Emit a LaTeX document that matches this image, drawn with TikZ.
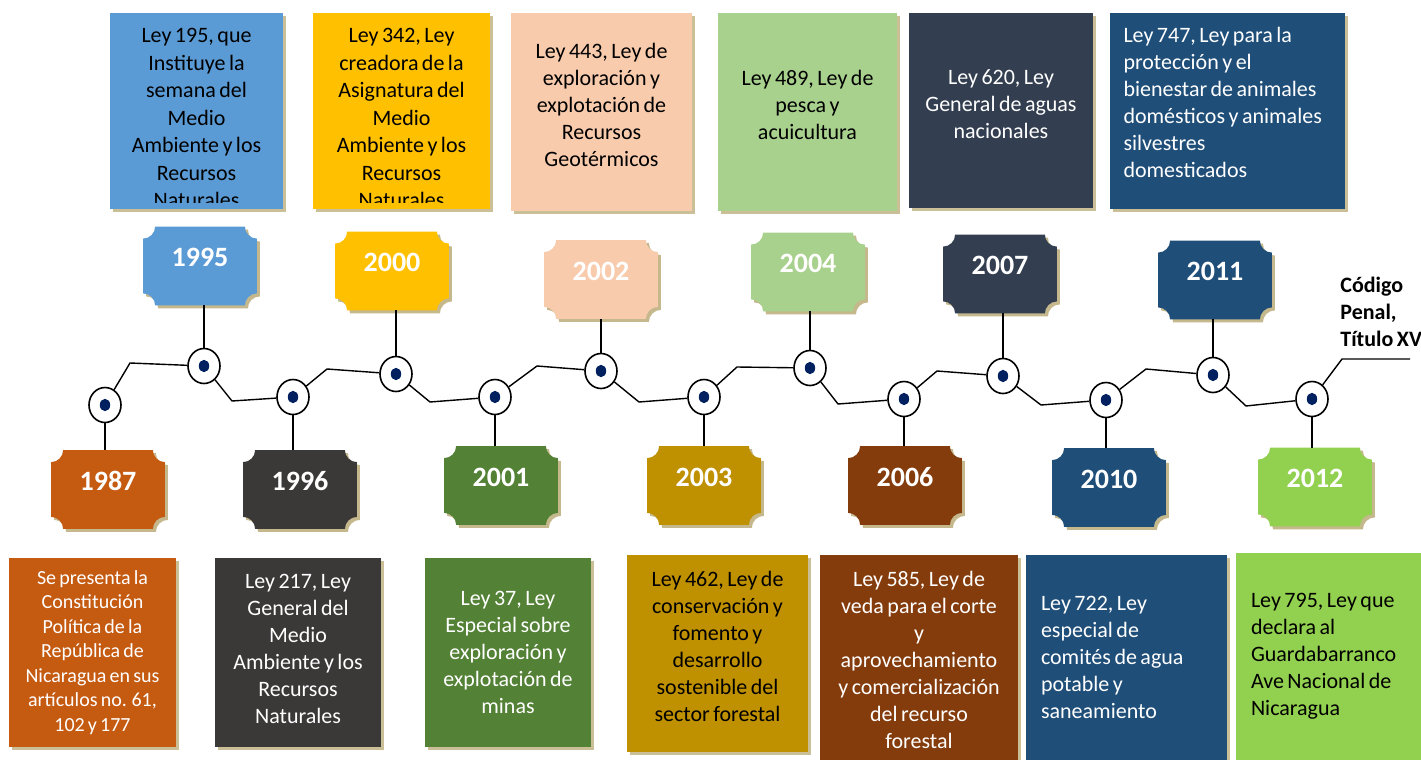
\documentclass[tikz,border=0pt]{standalone}
\usepackage{fontspec}
\setmainfont{Carlito}[WordSpace=0.7]
\usetikzlibrary{shapes.geometric,shadows,backgrounds}
\hyphenpenalty=10000

\definecolor{c1987}{HTML}{C55A11}
\definecolor{c1995}{HTML}{5B9BD5}
\definecolor{c1996}{HTML}{3B3838}
\definecolor{c2000}{HTML}{FFC000}
\definecolor{c2001}{HTML}{538135}
\definecolor{c2002}{HTML}{F8CBAD}
\definecolor{c2003}{HTML}{BF9000}
\definecolor{c2004}{HTML}{A9D18E}
\definecolor{c2006}{HTML}{843C0C}
\definecolor{c2007}{HTML}{333F50}
\definecolor{c2010}{HTML}{1F4E79}
\definecolor{c2011}{HTML}{1F4E79}
\definecolor{c2012}{HTML}{92D050}
\definecolor{dotnavy}{HTML}{002060}
\definecolor{shadowtan}{RGB}{196,184,140}

% plaque with hollow corners round a node
\newcommand{\plaque}[2]{%
  \fill[#2] ([yshift=6pt]#1.south west) -- ([yshift=-6pt]#1.north west)
    arc[start angle=-90, end angle=0, radius=6pt] -- ([xshift=-6pt]#1.north east)
    arc[start angle=180, end angle=270, radius=6pt] -- ([yshift=6pt]#1.south east)
    arc[start angle=90, end angle=180, radius=6pt] -- ([xshift=6pt]#1.south west)
    arc[start angle=0, end angle=90, radius=6pt] -- cycle;}

\begin{document}
\begin{tikzpicture}[x=0.5pt, y=-0.5pt,
   track/.style={draw=black, line width=0.7pt},
   marker/.style={ellipse, draw=black, fill=white, line width=0.8pt,
       minimum width=16pt, minimum height=17.5pt, inner sep=0pt,
       path picture={\fill[dotnavy] (path picture bounding box.center) ellipse (2.6pt and 3.1pt);}},
   yearbox/.style={rectangle, inner sep=0pt, minimum width=56.5pt,
       text height=19.9pt, text depth=19.1pt, text=white,
       font=\fontsize{14}{16}\selectfont\bfseries},
   lawbox/.style={rectangle, inner xsep=4pt, inner ysep=0pt, align=flush center,
       font=\fontsize{11}{13.5}\selectfont,
       drop shadow={shadow xshift=1.5pt, shadow yshift=-1.5pt, fill=shadowtan, opacity=0.9}},
   lift/.style={execute at end node={\endgraf\kern#1}},
   lawtext/.style={inner sep=0pt, align=center, font=\fontsize{11}{13.75}\selectfont},
   penaltext/.style={inner sep=0pt, align=left, font=\fontsize{11}{13.5}\selectfont\bfseries}]

\useasboundingbox (0,0) rectangle (1421,760);

% years, markers and their stems
\foreach \yr/\mx/\my/\bx/\by/\side in {
    1987/105/405/108/489.5/north, 1995/204/366/200/266/south,
    1996/293/397/300/489.5/north, 2000/396/374/392/271/south,
    2001/495/397/501/485.5/north, 2002/601/371/601/279.5/south,
    2003/704/397/704/485.5/north, 2004/810/368/808/272/south,
    2006/904/399/905/485.5/north, 2007/1003/376/1000/274/south,
    2010/1106/400/1109/487.5/north, 2011/1213/375/1215/280/south,
    2012/1312/399/1315/487/north}{
  \node[marker] (m\yr) at (\mx,\my) {};
  \node[yearbox] (y\yr) at (\bx,\by) {\yr};
  \begin{scope}[on background layer]
    \plaque{y\yr}{fill=shadowtan, transform canvas={shift={(1.5pt,-1.5pt)}}}
    \plaque{y\yr}{fill=c\yr}
  \end{scope}
  \draw[track] (m\yr) -- (m\yr |- y\yr.\side);
}

\coordinate (penal) at (1410,359);
\draw[track] (m1987) -- (130,363) -- (m1995) -- (232,401) -- (m1996)
   -- (327,369) -- (m2000) -- (430,402) -- (m2001) -- (537,366) -- (m2002)
   -- (639,402) -- (m2003) -- (737,367) -- (m2004) -- (838,404) -- (m2006)
   -- (937,371) -- (m2007) -- (1041,405) -- (m2010) -- (1146,369) -- (m2011)
   -- (1246,406) -- (m2012) -- (1342,359) -- (penal);
\node[penaltext, anchor=west] (cp) at (1340,312) {Código\\Penal,\\Título XV};

% upper laws
\node[lawbox, fill=c1995, minimum width=86.5pt, minimum height=98pt] (l1995) at (196.5,111) {};
\begin{scope}
  \clip ([yshift=3.5pt]l1995.south west) rectangle (l1995.north east);
  \node[lawtext] (t1995) at (196.5,118) {Ley 195, que\\Instituye la\\semana del\\Medio\\Ambiente y los\\Recursos\\Naturales};
\end{scope}
\node[lawbox, fill=c2000, minimum width=88.5pt, minimum height=98pt] (l2000) at (401.5,111) {};
\begin{scope}
  \clip ([yshift=3.5pt]l2000.south west) rectangle (l2000.north east);
  \node[lawtext] (t2000) at (401.5,118) {Ley 342, Ley\\creadora de la\\Asignatura del\\Medio\\Ambiente y los\\Recursos\\Naturales};
\end{scope}
\node[lawbox, fill=c2002, text width=82.5pt, minimum height=99pt, lift=7pt] (l2002) at (601.5,112)
   {Ley 443, Ley de\\exploración y\\explotación de\\Recursos\\Geotérmicos};
\node[lawbox, fill=c2004, text width=81.5pt, minimum height=99pt, lift=7pt] (l2004) at (807.5,112)
   {Ley 489, Ley de\\pesca y\\acuicultura};
\node[lawbox, fill=c2007, text=white, text width=84pt, minimum height=97.5pt, lift=6pt] (l2007) at (1001,110.5)
   {Ley 620, Ley\\General de aguas\\nacionales};
\node[lawbox, fill=c2011, text=white, align=flush left, inner xsep=6.75pt, text width=104pt, minimum height=98pt, lift=9pt] (l2011) at (1227.5,111)
   {Ley 747, Ley para la\\protección y el\\bienestar de animales\\domésticos y animales\\silvestres\\domesticados};

% lower laws
\node[lawbox, fill=c1987, text=white, text width=75.5pt, minimum height=94.5pt,
   font=\fontsize{10}{12.25}\selectfont] (l1987) at (92.5,652.5)
   {Se presenta la\\Constitución\\Política de la\\República de\\Nicaragua en sus\\artículos no. 61,\\102 y 177};
\node[lawbox, fill=c1996, text=white, text width=75pt, minimum height=94.5pt, lift=4pt] (l1996) at (298,652.5)
   {Ley 217, Ley\\General del\\Medio\\Ambiente y los\\Recursos\\Naturales};
\node[lawbox, fill=c2001, text=white, text width=75pt, minimum height=94.5pt] (l2001) at (508,652.5)
   {Ley 37, Ley\\Especial sobre\\exploración y\\explotación de\\minas};
\node[lawbox, fill=c2003, text width=82.5pt, minimum height=98.5pt, lift=7pt] (l2003) at (717.5,653.5)
   {Ley 462, Ley de\\conservación y\\fomento y\\desarrollo\\sostenible del\\sector forestal};
\node[lawbox, fill=c2006, text=white, text width=91pt, minimum height=104.5pt] (l2006) at (919,659.5)
   {Ley 585, Ley de\\veda para el corte\\y\\aprovechamiento\\y comercialización\\del recurso\\forestal};
\node[lawbox, fill=c2010, text=white, align=flush left, inner xsep=7.5pt, text width=85.5pt, minimum height=102.5pt] (l2010) at (1126.5,657.5)
   {Ley 722, Ley\\especial de\\comités de agua\\potable y\\saneamiento};
\node[lawbox, fill=c2012, align=flush left, inner xsep=7.5pt, text width=77.5pt, minimum height=103.5pt] (l2012) at (1328.5,656.5)
   {Ley 795, Ley que\\declara al\\Guardabarranco\\Ave Nacional de\\Nicaragua};

\end{tikzpicture}
\end{document}
